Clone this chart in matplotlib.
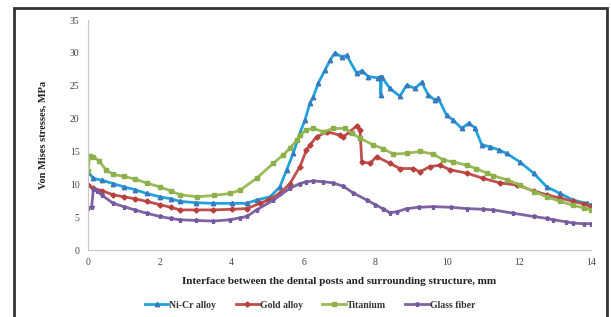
import matplotlib
matplotlib.use("Agg")
import matplotlib.pyplot as plt
from matplotlib.patches import Rectangle

# ---------------- data ----------------
nicr_x = [0, 0.15, 0.4, 0.7, 1.0, 1.3, 1.63, 2.0, 2.3, 2.56, 3.0, 3.49, 4.0, 4.42, 4.69, 5.07,
          5.34, 5.53, 5.71, 5.9, 6.04, 6.18, 6.27, 6.41, 6.6, 6.74, 6.87, 7.06, 7.2, 7.48, 7.62,
          7.8, 8.07, 8.13, 8.15, 8.17, 8.4, 8.68, 8.87, 9.1, 9.29, 9.47, 9.66, 9.75, 9.98, 10.16,
          10.4, 10.6, 10.77, 10.96, 11.2, 11.45, 11.65, 12.02, 12.4, 12.77, 13.14, 13.5, 13.88, 14.0]
nicr_y = [11.9, 10.9, 10.6, 10.1, 9.6, 9.2, 8.6, 8.1, 7.8, 7.4, 7.2, 7.1, 7.1, 7.1, 7.6, 8.1,
          9.6, 12.2, 14.7, 17.8, 19.8, 22.4, 23.3, 25.4, 27.4, 28.9, 30.0, 29.4, 29.6, 26.9, 27.3,
          26.4, 26.2, 26.3, 23.6, 26.4, 24.6, 23.4, 25.1, 24.6, 25.5, 23.6, 22.8, 23.1, 20.5, 19.8,
          18.5, 19.3, 18.6, 16.0, 15.7, 15.2, 14.7, 13.4, 11.7, 9.6, 8.6, 7.6, 7.1, 6.8]

gold_x = [0, 0.15, 0.4, 0.7, 1.0, 1.3, 1.63, 2.0, 2.3, 2.56, 3.0, 3.49, 4.0, 4.42, 4.79, 5.0,
          5.34, 5.62, 5.9, 6.08, 6.18, 6.36, 6.64, 7.0, 7.1, 7.29, 7.48, 7.57, 7.62, 7.85, 8.03,
          8.4, 8.68, 9.05, 9.24, 9.52, 9.8, 10.08, 10.54, 11.0, 11.47, 11.93, 12.4, 12.77, 13.14,
          13.5, 13.8, 14.0]
gold_y = [9.9, 9.4, 9.0, 8.4, 8.1, 7.8, 7.4, 6.9, 6.5, 6.1, 6.1, 6.1, 6.2, 6.3, 7.1, 7.6,
          8.6, 10.1, 12.7, 15.2, 16.0, 17.2, 18.0, 17.5, 17.2, 18.0, 18.9, 18.3, 13.4, 13.2, 14.2,
          13.2, 12.4, 12.4, 11.9, 12.7, 12.9, 12.2, 11.7, 10.9, 10.2, 9.9, 9.0, 8.4, 7.9,
          7.4, 7.0, 6.6]

ti_x = [0, 0.05, 0.15, 0.3, 0.5, 0.7, 1.0, 1.3, 1.63, 2.0, 2.3, 2.56, 3.03, 3.5, 3.95, 4.23,
        4.69, 5.16, 5.44, 5.62, 5.81, 5.9, 6.08, 6.27, 6.55, 6.83, 7.15, 7.34, 7.57, 7.94, 8.22,
        8.5, 8.87, 9.24, 9.61, 9.89, 10.17, 10.54, 10.8, 11.1, 11.28, 11.65, 12.02, 12.4, 12.77,
        13.14, 13.5, 13.8, 14.0]
ti_y = [12.0, 14.3, 14.2, 13.6, 12.2, 11.5, 11.2, 10.8, 10.2, 9.6, 9.0, 8.4, 8.1, 8.3, 8.6, 9.1,
        10.9, 13.2, 14.5, 15.5, 16.7, 17.5, 18.3, 18.5, 18.0, 18.5, 18.5, 17.8, 17.0, 16.0, 15.4,
        14.6, 14.7, 15.0, 14.6, 13.7, 13.4, 12.9, 12.4, 11.7, 11.3, 10.7, 9.9, 8.9, 8.1,
        7.4, 6.8, 6.4, 6.1]

gf_x = [0, 0.1, 0.15, 0.25, 0.4, 0.7, 1.0, 1.3, 1.63, 2.0, 2.3, 2.56, 3.0, 3.49, 3.95, 4.23,
        4.42, 4.69, 5.16, 5.62, 5.9, 6.08, 6.27, 6.55, 6.83, 7.1, 7.38, 7.76, 8.0, 8.2, 8.4,
        8.59, 8.87, 9.2, 9.61, 10.1, 10.54, 11.0, 11.28, 11.83, 12.4, 12.77, 12.95, 13.3, 13.5,
        13.8, 14.0]
gf_y = [6.4, 6.5, 9.3, 9.0, 8.3, 7.1, 6.6, 6.1, 5.6, 5.1, 4.8, 4.6, 4.5, 4.4, 4.6, 4.9,
        5.1, 6.1, 7.6, 9.4, 10.1, 10.4, 10.5, 10.4, 10.2, 9.7, 8.7, 7.6, 6.9, 6.3, 5.7,
        5.8, 6.3, 6.5, 6.6, 6.5, 6.3, 6.2, 6.1, 5.6, 5.1, 4.8, 4.6, 4.3, 4.1,
        4.0, 4.0]

series_names = ["Ni-Cr alloy", "Gold alloy", "Titanium", "Glass fiber"]
x_ticks = [0, 2, 4, 6, 8, 10, 12, 14]
y_ticks = [0, 5, 10, 15, 20, 25, 30, 35]

# ---------------- figure ----------------
fig = plt.figure(figsize=(6.11, 3.17), dpi=100)
fig.patch.set_facecolor("white")
W, H = 611, 317

# outer frame
fig.patches.append(Rectangle((14 / W, -0.05), (607 - 14) / W, 1 - 8 / H + 0.05,
                             transform=fig.transFigure, fill=False,
                             edgecolor="#333333", linewidth=2.0))

ax = fig.add_axes([88 / W, 1 - 250 / H, (591 - 88) / W, (250 - 20) / H])

styles = [
    (nicr_x, nicr_y, "#1FA3DC", "#3B78BE", "^", 3.2),
    (gold_x, gold_y, "#C0504D", "#B8403C", "D", 2.6),
    (ti_x, ti_y, "#9BBB59", "#8CB04A", "s", 2.6),
    (gf_x, gf_y, "#8064A2", "#7458A0", "*", 3.6),
]
for (xs, ys, lc, mc, mk, ms), name in zip(styles, series_names):
    ax.plot(xs, ys, color=lc, linewidth=2.0, marker=mk, markersize=ms,
            markerfacecolor=mc, markeredgecolor=mc, label=name)

ax.set_xlim(0, 14)
ax.set_ylim(0, 35)
ax.set_xticks(x_ticks)
ax.set_yticks(y_ticks)
for s in ["top", "right"]:
    ax.spines[s].set_visible(False)
for s in ["left", "bottom"]:
    ax.spines[s].set_color("#C8C8C8")
    ax.spines[s].set_linewidth(0.8)
ax.tick_params(length=0, pad=6, labelsize=7, labelcolor="#444444")
for lab in ax.get_xticklabels() + ax.get_yticklabels():
    lab.set_family("Liberation Serif")

ax.set_xlabel("Interface between the dental posts and surrounding structure, mm",
              family="Liberation Serif", fontweight="bold", fontsize=8, labelpad=7,
              color="#222222")
ax.set_ylabel("Von Mises stresses, MPa", family="Liberation Serif", fontweight="bold",
              fontsize=7.5, labelpad=16, color="#222222")

leg = fig.legend(loc="center", bbox_to_anchor=(310 / W, 1 - 305 / H), ncol=4,
                 frameon=False, handlelength=2.4, handletextpad=0.1, columnspacing=2.0,
                 prop={"family": "Liberation Serif", "weight": "bold", "size": 7})
for t in leg.get_texts():
    t.set_color("#333333")

fig.savefig("out.png", dpi=100)
